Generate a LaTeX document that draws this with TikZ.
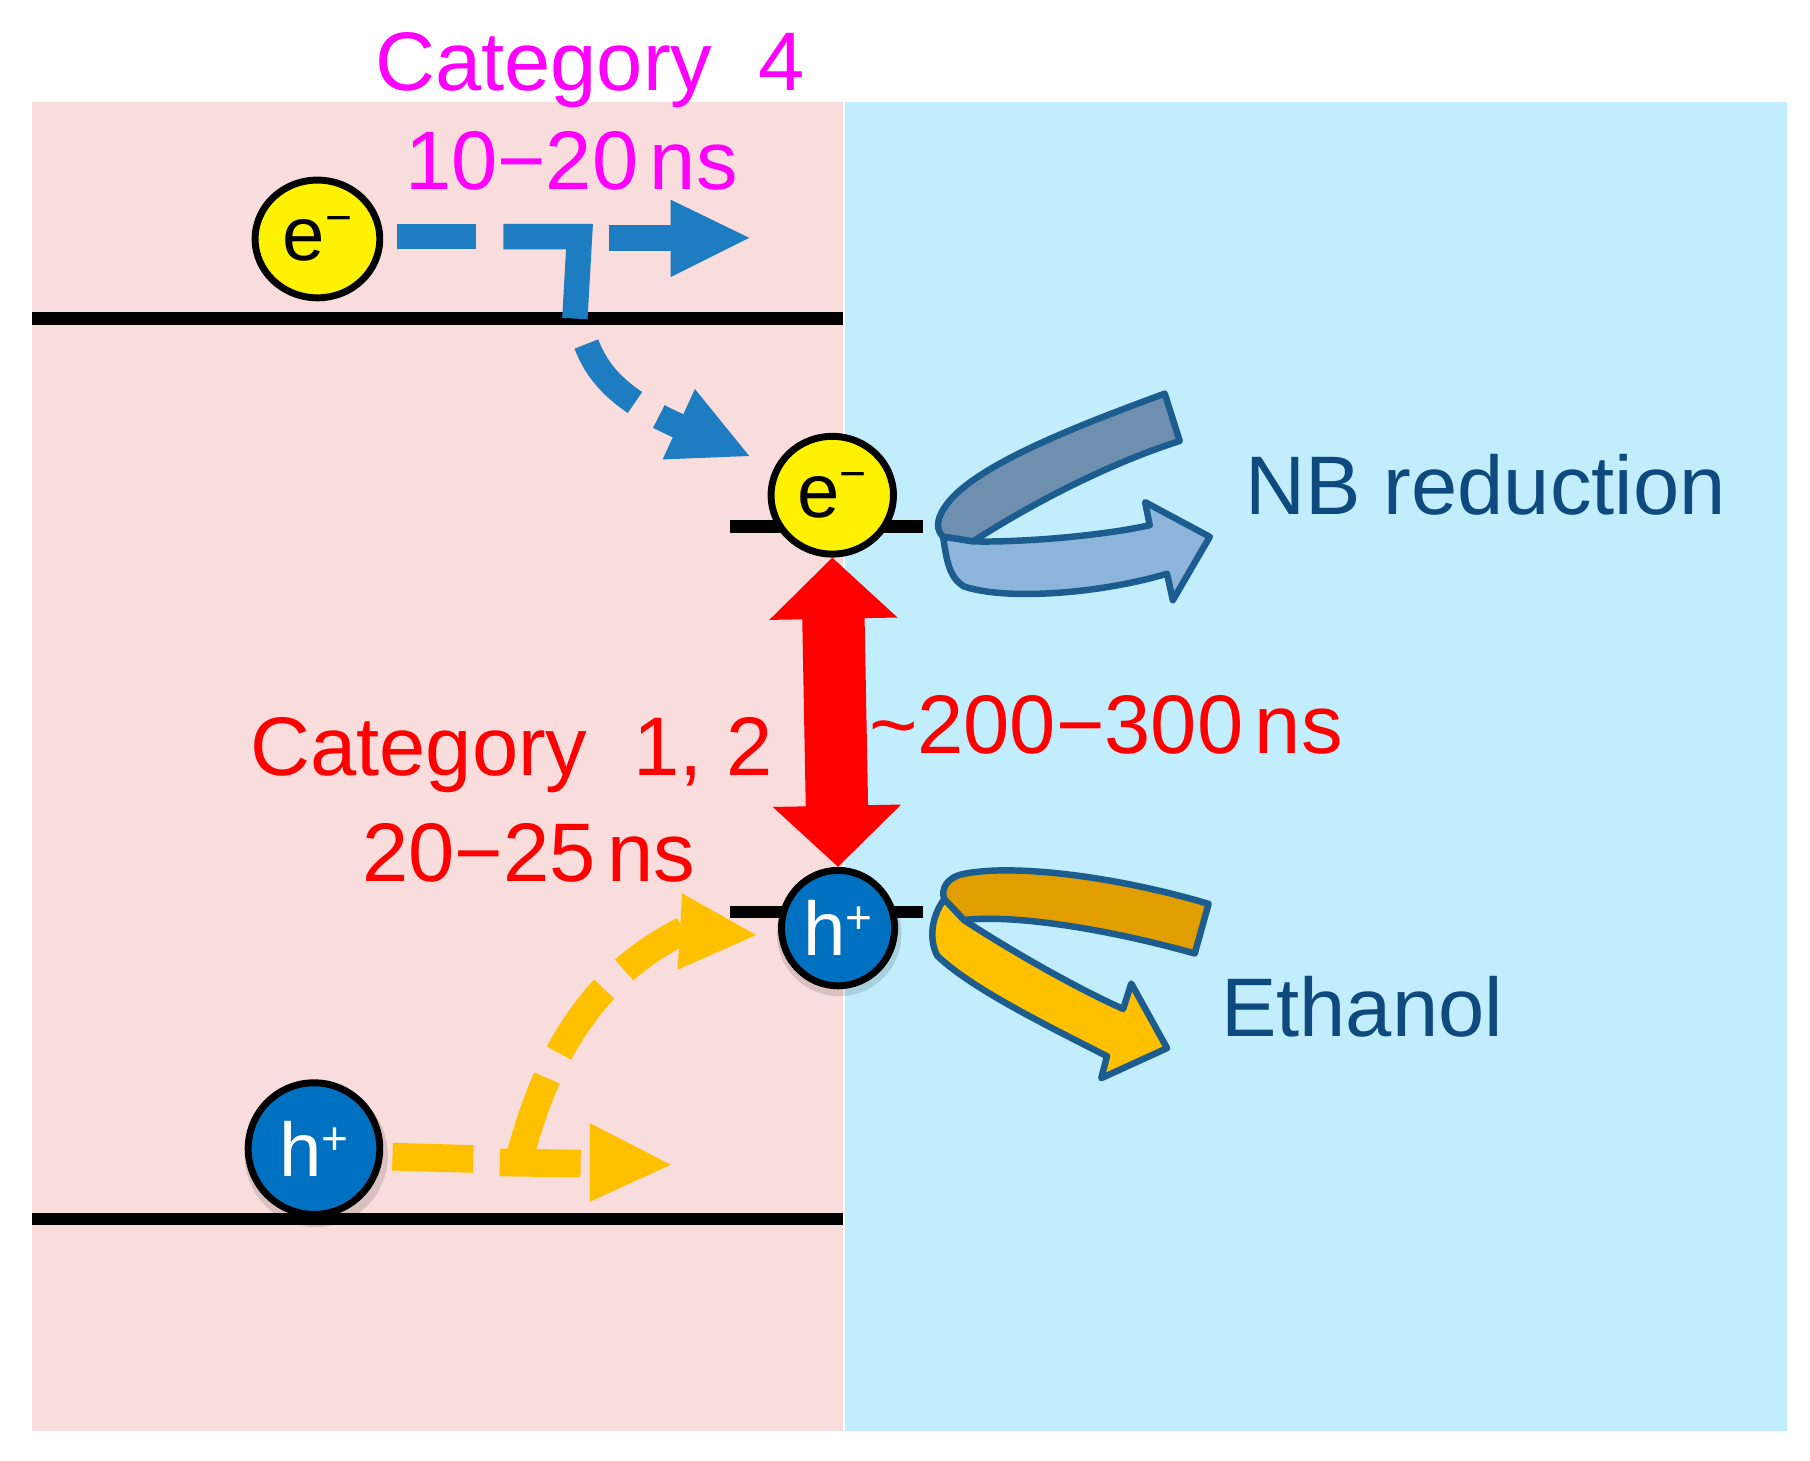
\documentclass[tikz,border=0pt]{standalone}
\usepackage{fontspec}
\setmainfont{Liberation Sans}
\usetikzlibrary{arrows.meta,shapes.geometric}
\definecolor{pinkbg}{RGB}{249,220,220}
\definecolor{bluebg}{RGB}{193,237,253}
\definecolor{arrblue}{RGB}{30,125,192}
\definecolor{arryel}{RGB}{255,192,0}
\definecolor{darkgold}{RGB}{224,158,0}
\definecolor{txtblue}{RGB}{14,74,126}
\definecolor{txtmag}{RGB}{255,0,255}
\definecolor{hblue}{RGB}{0,112,192}
\definecolor{ribdark}{RGB}{111,143,176}
\definecolor{riblight}{RGB}{141,180,218}
\definecolor{ribline}{RGB}{28,92,142}
\begin{document}
\begin{tikzpicture}[x=0.5pt,y=-0.5pt,
  lbl/.style={font=\fontsize{36}{40}\selectfont, anchor=base, inner sep=0pt},
  particle/.style={ellipse, draw=black, line width=3pt, inner sep=0pt, font=\fontsize{33}{36}\selectfont},
  band/.style={line width=5.5pt, black},
  ebar/.style={line width=11pt, arrblue, line join=miter},
  hbar/.style={line width=12pt, arryel, line join=miter},
  ribbon/.style={draw=ribline, line width=2.8pt, line join=round},
]
\useasboundingbox (0,0) rectangle (1568,1265);
\fill[white] (0,0) rectangle (1568,1265);
\fill[pinkbg] (28,88) rectangle (730,1240);
\fill[bluebg] (732,88) rectangle (1548,1240);

% energy levels
\draw[band] (28,276) -- (730,276);
\draw[band] (28,1056) -- (730,1056);
\draw[band] (632,456) -- (800,456);
\draw[band] (632,790) -- (800,790);

% shadows of holes
\fill[black, opacity=0.12] (274,1001) circle (62);
\fill[black, opacity=0.12] (727,809) circle (54);

% particles
\node[particle, fill=yellow, minimum width=54pt, minimum height=51pt] (e1) at (275,207) {e\raisebox{12pt}{\fontsize{20}{20}\selectfont −}};
\node[particle, fill=yellow, minimum width=53pt, minimum height=51pt] (e2) at (721,429) {e\raisebox{12pt}{\fontsize{20}{20}\selectfont −}};
\node[particle, fill=hblue, text=white, minimum width=49pt, minimum height=50pt] (h2) at (726,804) {h\raisebox{9.5pt}{\fontsize{20}{20}\selectfont +}};
\node[particle, fill=hblue, text=white, minimum width=57pt, minimum height=57pt] (h1) at (272,995) {h\raisebox{9.5pt}{\fontsize{20}{20}\selectfont +}};

% blue dashed arrows (electron)
\coordinate (etip) at (649,206);
\coordinate (etip2) at (649,395);
\draw[ebar] (344,205) -- (412,205);
\draw[ebar] (436,205) -- (502,205) -- (498,276);
\draw[ebar] (528,206) -- (585,206);
\fill[arrblue] (581,173) -- (etip) -- (581,240) -- cycle;
\draw[ebar, dash pattern=on 33.5pt off 12pt on 60pt off 1pt] (508,298) .. controls (520,330) and (545,350) .. (590,370);
\fill[arrblue] (602,337) -- (etip2) -- (574,398) -- cycle;

% yellow dashed arrows (hole)
\coordinate (htip) at (581,1009);
\coordinate (htip2) at (655,810);
\draw[hbar] (340,1002) -- (410,1004);
\draw[hbar] (433,1007) -- (503,1008);
\draw[hbar, dash pattern=on 35pt off 12pt on 34pt off 12pt on 60pt off 1pt] (451,1000) .. controls (475,910) and (515,845) .. (592,806);
\fill[arryel] (511,973) -- (htip) -- (511,1041) -- cycle;
\fill[arryel] (591,774) -- (htip2) -- (587,840) -- cycle;

% red double arrow
\draw[red, line width=27pt, {Triangle[length=26.5pt 0 0,width=54pt 0 0]}-{Triangle[length=26.5pt 0 0,width=54pt 0 0]}] (e2.south) -- (h2.north);

% NB ribbon
\filldraw[ribbon, fill=ribdark] (1009,341) .. controls (930,370) and (840,405) .. (818,440) .. controls (810,452) and (812,460) .. (817,465) -- (843,469) .. controls (880,445) and (950,405) .. (1022,382) -- cycle;
\filldraw[ribbon, fill=riblight] (817,465) .. controls (820,485) and (822,500) .. (835,508) .. controls (870,520) and (950,515) .. (1011,497) -- (1016,520) -- (1048,465) -- (992,435) -- (996,455) .. controls (950,465) and (880,470) .. (843,469) -- cycle;

% Ethanol ribbon
\filldraw[ribbon, fill=darkgold] (1047,783) .. controls (970,760) and (880,748) .. (835,757) .. controls (820,760) and (815,770) .. (818,779) -- (835,797) .. controls (880,792) and (960,805) .. (1035,826) -- cycle;
\filldraw[ribbon, fill=arryel] (818,779) .. controls (806,795) and (805,815) .. (812,828) .. controls (840,855) and (900,885) .. (959,915) -- (954,934) -- (1011,908) -- (980,852) -- (973,874) .. controls (930,855) and (870,820) .. (835,797) -- cycle;

% labels
\node[lbl, text=txtmag] (cat4) at (511,78) {Category\ \ 4};
\node[lbl, text=txtmag] (t4) at (495,164) {10−20\hspace{5pt}ns};
\node[lbl, text=txtblue] (nb) at (1287,446) {NB reduction};
\node[lbl, text=txtblue] (eth) at (1180,898) {Ethanol};
\node[lbl, text=red] (cat12) at (443,672) {Category\ \ 1, 2};
\node[lbl, text=red] (t12) at (458,764) {20−25\hspace{5pt}ns};
\node[lbl, text=red] (trec) at (958,653) {\textasciitilde 200−300\hspace{5pt}ns};
\end{tikzpicture}
\end{document}
